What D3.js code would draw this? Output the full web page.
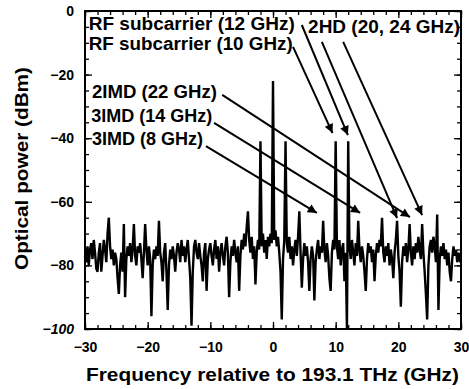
<!DOCTYPE html>
<html>
<head>
<meta charset="utf-8">
<script src="https://cdn.jsdelivr.net/npm/d3@7"></script>
<style>
  body { margin: 0; background: #fff; }
  svg { display: block; font-family: "Liberation Sans", Arial, sans-serif; font-weight: bold; }
</style>
</head>
<body>
<div id="chart"></div>
<script>
const freqStart = -30;
const freqStep = 0.2;
const power = [
  -77, -79, -74, -80, -75, -73, -78, -72, -76, -81,
  -82, -76, -73, -82, -77, -72, -75, -79, -70, -65,
  -74, -78, -75, -80, -76, -78, -84, -89, -80, -76,
  -82, -67, -90, -78, -74, -77, -73, -79, -75, -67,
  -77, -80, -74, -76, -73, -78, -84, -76, -67, -75,
  -80, -74, -78, -96, -80, -75, -78, -74, -77, -66,
  -76, -79, -85, -76, -73, -82, -94, -80, -75, -78,
  -74, -77, -82, -76, -73, -75, -79, -72, -77, -74,
  -79, -75, -72, -78, -84, -99, -82, -74, -72, -76,
  -78, -73, -77, -80, -85, -76, -73, -88, -78, -75,
  -73, -77, -80, -75, -72, -78, -74, -82, -76, -73,
  -77, -80, -74, -71, -76, -90, -79, -74, -77, -72,
  -76, -79, -74, -88, -77, -72, -75, -70, -74, -68,
  -63, -72, -76, -71, -78, -74, -86, -76, -72, -75,
  -41, -74, -70, -76, -72, -78, -71, -74, -70, -73,
  -22, -72, -69, -74, -71, -76, -82, -97, -78, -72,
  -41, -73, -76, -71, -78, -74, -80, -75, -72, -77,
  -71, -63, -76, -87, -78, -73, -77, -74, -79, -88,
  -78, -74, -77, -91, -79, -75, -72, -78, -74, -76,
  -66, -75, -79, -73, -77, -84, -88, -76, -72, -75,
  -41, -74, -78, -72, -80, -75, -73, -85, -76, -100,
  -41, -74, -78, -72, -76, -80, -73, -77, -66, -75,
  -79, -74, -77, -82, -88, -78, -73, -76, -74, -79,
  -75, -85, -77, -73, -76, -72, -74, -65, -76, -79,
  -74, -77, -73, -80, -75, -78, -84, -76, -72, -66,
  -77, -82, -93, -79, -74, -77, -73, -79, -75, -67,
  -76, -80, -74, -78, -73, -76, -71, -75, -78, -67,
  -76, -82, -89, -97, -80, -74, -72, -76, -71, -74,
  -79, -64, -94, -78, -74, -77, -73, -78, -75, -80,
  -76, -82, -85, -78, -74, -77, -75, -79, -76, -78,
  -77
];

const xTicks = [-30, -20, -10, 0, 10, 20, 30];
const yTicks = [0, -20, -40, -60, -80, -100];

// annotation labels: text, x (GHz), baseline (dBm)
const labelText = ["RF subcarrier (12 GHz)", "RF subcarrier (10 GHz)", "2IMD (22 GHz)", "3IMD (14 GHz)", "3IMD (8 GHz)", "2HD (20, 24 GHz)"];
const labelX = [-29.4, -29.4, -28.9, -29.0, -28.9, 5.6];
const labelY = [-6.0, -12.3, -27.4, -34.9, -42.1, -6.9];
const labelWidth = [206, 204, 125, 121, 111, 152];

// arrows: start (GHz, dBm) -> tip (GHz, dBm)
const arrowX1 = [4.6, 3.2, -8.1, -9.4, -10.7, 7.8, 11.2];
const arrowY1 = [-4.4, -11.3, -26.4, -35.2, -42.5, -9.7, -9.7];
const arrowX2 = [11.95, 9.5, 21.85, 13.9, 7.0, 19.8, 23.8];
const arrowY2 = [-39.0, -38.4, -64.8, -63.5, -63.5, -65.1, -64.2];

const W = 469, H = 389;
const margin = { top: 11, right: 8, bottom: 60, left: 85 };
const width = W - margin.left - margin.right;
const height = H - margin.top - margin.bottom;

const svg = d3.select("#chart").append("svg")
  .attr("width", W)
  .attr("height", H);

svg.append("defs").append("marker")
  .attr("id", "head")
  .attr("viewBox", "0 0 10 10")
  .attr("refX", 10).attr("refY", 5)
  .attr("markerWidth", 5).attr("markerHeight", 4.5)
  .attr("markerUnits", "strokeWidth")
  .attr("orient", "auto")
  .append("path")
  .attr("d", "M0,0 L10,5 L0,10 Z")
  .attr("fill", "#000");

const g = svg.append("g")
  .attr("transform", "translate(" + margin.left + "," + margin.top + ")");

const x = d3.scaleLinear().domain([-30, 30]).range([0, width]);
const y = d3.scaleLinear().domain([-100, 0]).range([height, 0]);

// minor ticks
const minorX = d3.range(-30, 31, 2);
const minorY = d3.range(-100, 1, 5);

g.append("g").attr("transform", "translate(0," + height + ")")
  .call(d3.axisBottom(x).tickValues(minorX).tickSize(-4).tickFormat(""));
g.append("g")
  .call(d3.axisTop(x).tickValues(minorX).tickSize(-4).tickFormat(""));
g.append("g")
  .call(d3.axisLeft(y).tickValues(minorY).tickSize(-4).tickFormat(""));
g.append("g").attr("transform", "translate(" + width + ",0)")
  .call(d3.axisRight(y).tickValues(minorY).tickSize(-4).tickFormat(""));

// major ticks with labels
const xAxis = g.append("g").attr("transform", "translate(0," + height + ")")
  .call(d3.axisBottom(x).tickValues(xTicks).tickSize(-7).tickPadding(13).tickFormat(d3.format("d")));
const yAxis = g.append("g")
  .call(d3.axisLeft(y).tickValues(yTicks).tickSize(-7).tickPadding(11).tickFormat(d3.format("d")));
g.append("g")
  .call(d3.axisTop(x).tickValues(xTicks).tickSize(-7).tickFormat(""));
g.append("g").attr("transform", "translate(" + width + ",0)")
  .call(d3.axisRight(y).tickValues(yTicks).tickSize(-7).tickFormat(""));

g.selectAll(".domain").remove();
g.selectAll(".tick line").attr("stroke", "#000").attr("stroke-width", 1.3);
g.selectAll(".tick text")
  .attr("fill", "#000")
  .style("font-size", "14px")
  .style("font-weight", "bold")
  .style("font-family", "'Liberation Sans', Arial, sans-serif");
xAxis.selectAll(".tick text").attr("dy", "0.71em");
yAxis.selectAll(".tick text").filter(d => d === -100).style("font-style", "italic");

// frame
g.append("rect")
  .attr("width", width).attr("height", height)
  .attr("fill", "none").attr("stroke", "#000").attr("stroke-width", 2);

// spectrum trace
const line = d3.line()
  .x((d, i) => x(freqStart + i * freqStep))
  .y(d => y(d));

g.append("path")
  .datum(power)
  .attr("fill", "none")
  .attr("stroke", "#000")
  .attr("stroke-width", 2.4)
  .attr("stroke-linejoin", "miter")
  .attr("d", line);

// arrows
g.selectAll(".arrow")
  .data(arrowX1)
  .enter().append("line")
  .attr("class", "arrow")
  .attr("x1", (d, i) => x(arrowX1[i]))
  .attr("y1", (d, i) => y(arrowY1[i]))
  .attr("x2", (d, i) => x(arrowX2[i]))
  .attr("y2", (d, i) => y(arrowY2[i]))
  .attr("stroke", "#000")
  .attr("stroke-width", 2)
  .attr("marker-end", "url(#head)");

// labels
g.selectAll(".label")
  .data(labelText)
  .enter().append("text")
  .attr("class", "label")
  .attr("x", (d, i) => x(labelX[i]))
  .attr("y", (d, i) => y(labelY[i]))
  .attr("textLength", (d, i) => labelWidth[i])
  .attr("lengthAdjust", "spacingAndGlyphs")
  .style("font-size", "18px")
  .text(d => d);

// axis titles
svg.append("text")
  .attr("x", 86)
  .attr("y", 381)
  .attr("textLength", 373)
  .attr("lengthAdjust", "spacingAndGlyphs")
  .style("font-size", "19px")
  .text("Frequency relative to 193.1 THz (GHz)");

svg.append("text")
  .attr("transform", "translate(28,270) rotate(-90)")
  .attr("textLength", 203)
  .attr("lengthAdjust", "spacingAndGlyphs")
  .style("font-size", "19px")
  .text("Optical power (dBm)");
</script>
</body>
</html>
